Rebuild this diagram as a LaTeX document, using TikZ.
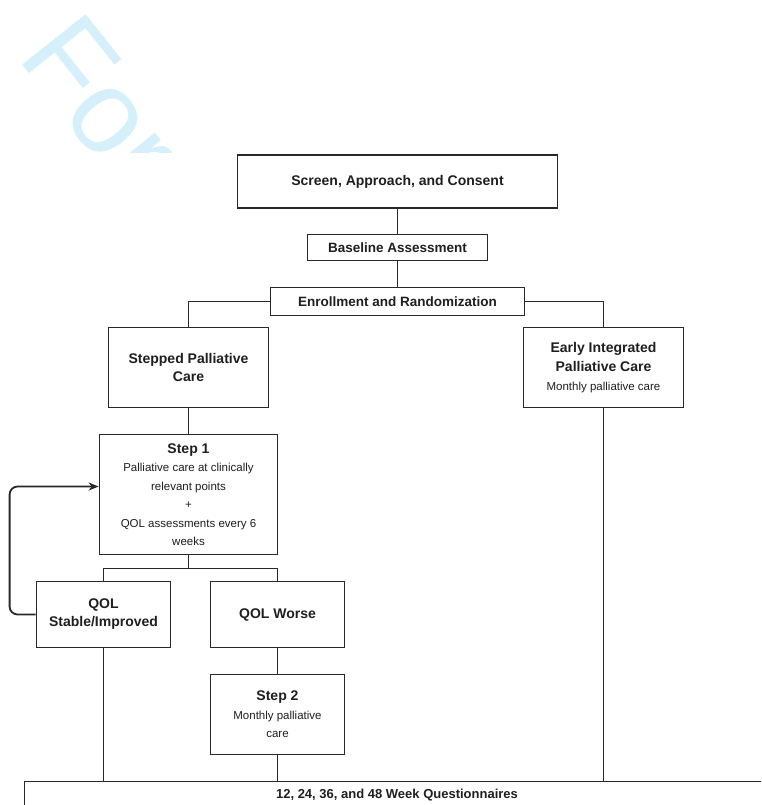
\documentclass[tikz,border=0pt]{standalone}
\usepackage{fontspec}
\setmainfont{Liberation Sans}
\usetikzlibrary{arrows.meta,calc}
\definecolor{wm}{RGB}{214,240,251}
\definecolor{ln}{RGB}{40,40,40}
\newcommand{\hdf}{\fontsize{14}{18}\selectfont\bfseries}
\newcommand{\smf}{\fontsize{11.5}{18.5}\selectfont}
\begin{document}
\begin{tikzpicture}[x=1pt,y=-1pt,
 box/.style={draw=ln,line width=1.8pt,fill=white,align=center,inner sep=2pt,text=black!88},
 conn/.style={draw=ln,line width=1.8pt},
 hd/.style={font=\hdf},
 ]
\useasboundingbox (0,0) rectangle (761,805);
\clip (0,0) rectangle (761,805);
\begin{scope}
\clip (0,0) rectangle (761,153);
\node[anchor=base west,inner sep=0,outer sep=0,rotate=-51.5,text=wm,font=\fontsize{118}{118}\selectfont] (wmark) at (16,58) {For};
\end{scope}

\node[box,minimum width=320,minimum height=53,hd] (screen) at (397.5,181.5) {Screen, Approach, and Consent};
\node[box,minimum width=180,minimum height=26,font=\fontsize{13.5}{16}\selectfont\bfseries] (base) at (397.5,247.5) {Baseline Assessment};
\node[box,minimum width=254,minimum height=28,font=\fontsize{13.5}{16}\selectfont\bfseries] (enroll) at (397.5,301.5) {Enrollment and Randomization};
\node[box,minimum width=160,minimum height=80,hd] (stepped) at (188.5,367.5) {Stepped Palliative\\Care};
\node[box,minimum width=160,minimum height=80,font=\fontsize{11.5}{19}\selectfont] (early) at (603.5,367.5) {\hdf Early Integrated\\\hdf Palliative Care\\Monthly palliative care};
\node[box,minimum width=178,minimum height=120,font=\smf] (step1) at (188.5,494.5) {\hdf Step 1\\Palliative care at clinically\\relevant points\\+\\QOL assessments every 6\\weeks};
\node[box,minimum width=134,minimum height=66,hd] (stable) at (103.5,614.5) {QOL\\Stable/Improved};
\node[box,minimum width=134,minimum height=66,hd] (worse) at (277.5,614.5) {QOL Worse};
\node[box,minimum width=134,minimum height=80,font=\smf] (step2) at (277.5,714.5) {\hdf Step 2\\Monthly palliative\\care};
\node[draw=ln,line width=1.8pt,anchor=north west,minimum width=800,minimum height=60,inner sep=0] (qbox) at (23.5,780.5) {};
\node[font=\fontsize{13}{16}\selectfont\bfseries,text=black!88] (qtext) at (397,795) {12, 24, 36, and 48 Week Questionnaires};

\coordinate (split) at ($(step1.south)+(0,13)$);
\coordinate (loopin) at ($(step1.west)+(0,-8)$);

\draw[conn] (screen) -- (base);
\draw[conn] (base) -- (enroll);
\draw[conn] (enroll.west) -| (stepped.north);
\draw[conn] (enroll.east) -| (early.north);
\draw[conn] (stepped) -- (step1);
\draw[conn] (step1.south) -- (split);
\draw[conn] (stable.north) |- (split) -| (worse.north);
\draw[conn,rounded corners=8,-{Stealth[length=10pt,width=8pt]}] (stable.west) -| ($(loopin)+(-89,0)$) -- (loopin);
\draw[conn] (worse) -- (step2);
\draw[conn] (stable.south) -- (stable |- qbox.north);
\draw[conn] (step2.south) -- (step2 |- qbox.north);
\draw[conn] (early.south) -- (early |- qbox.north);
\end{tikzpicture}
\end{document}
